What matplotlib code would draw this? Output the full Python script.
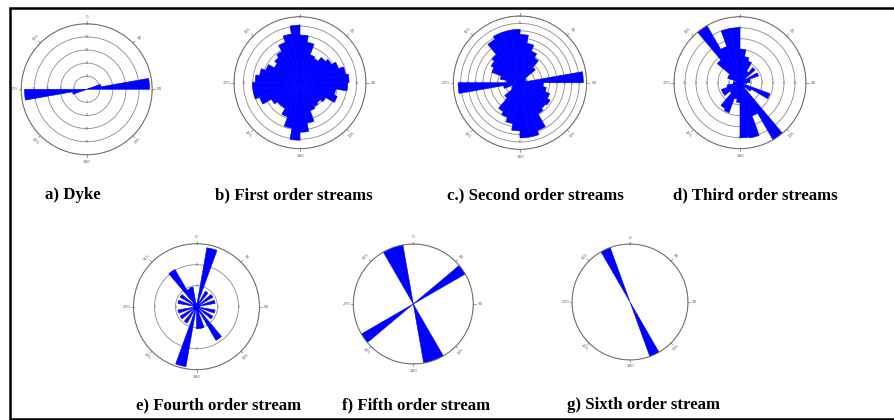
import numpy as np
import matplotlib
matplotlib.use("Agg")
import matplotlib.pyplot as plt
from matplotlib.patches import Rectangle

W, H = 894, 420

# 10 degree bins, start angle of each bin (azimuth, clockwise from north)
bins = np.arange(0, 360, 10)

# a) Dyke
dyke_angles = [70, 80, 250, 260]
dyke_counts = [4.4, 19.2, 4.4, 19.0]

# b) First order streams (36 bins)
first_counts = [10.1, 8.7, 6.3, 5.9, 7.0, 7.7, 8.7, 9.8, 10.4, 10.1, 7.7, 8.4,
                6.3, 5.6, 5.9, 6.3, 8.7, 10.5, 12.2, 9.8, 7.7, 6.3, 6.3, 7.0,
                9.1, 10.1, 10.1, 9.5, 8.7, 7.7, 6.3, 7.0, 7.7, 9.1, 10.5, 12.2]

# c) Second order streams (36 bins)
second_counts = [13.0, 10.8, 9.0, 7.7, 5.4, 1.8, 1.4, 1.8, 17.1, 6.3, 7.2, 8.5,
                 9.4, 9.0, 9.7, 13.7, 14.9, 14.9, 13.0, 11.2, 9.9, 9.0, 5.4, 2.7,
                 2.2, 4.5, 16.7, 3.6, 5.4, 8.1, 9.0, 9.9, 13.5, 14.4, 14.4, 14.4]

# d) Third order streams (36 bins)
third_counts = [6.1, 4.8, 4.2, 2.4, 3.6, 1.2, 3.6, 1.8, 1.8, 1.2, 0.6, 5.8,
                2.4, 1.2, 12.0, 6.4, 10.2, 10.0, 3.6, 3.0, 5.8, 5.4, 2.4, 3.6,
                3.6, 2.4, 1.2, 1.2, 0.6, 2.4, 2.4, 5.4, 12.2, 7.0, 10.0, 10.0]

# e) Fourth order stream (36 bins)
fourth_counts = [0.15, 2.85, 0.3, 0.85, 0.15, 0.9, 0.15, 0.9, 0.15, 0.15, 0.9, 0.15,
                 0.9, 0.15, 1.85, 0.3, 1.05, 1.05, 0.15, 2.9, 0.15, 0.9, 0.15, 0.9,
                 0.15, 0.9, 0.15, 0.15, 0.9, 0.15, 0.9, 0.15, 2.05, 0.9, 0.95, 0.15]

# f) Fifth order stream
fifth_angles = [50, 150, 160, 230, 330, 340]
fifth_counts = [1, 1, 1, 1, 1, 1]

# g) Sixth order stream
sixth_angles = [150, 330]
sixth_counts = [1, 1]

labels = ["a) Dyke", "b) First order streams", "c.) Second order streams",
          "d) Third order streams", "e) Fourth order stream",
          "f) Fifth order stream", "g) Sixth order stream"]

# panel layout in pixels: centre x, centre y, radius, ring max, ring step
panels = [
    (86.7, 89.3, 65.5, 20, 4),
    (300, 82.7, 66, 14, 2),
    (520, 82.7, 66.7, 18, 2),
    (740, 82.7, 66, 12, 2),
    (196.5, 306.7, 63, 3, 1),
    (413.3, 304, 60, 1, 1),
    (630, 302, 58, 1, 1),
]
label_pos = [(45, 195), (215, 195), (447, 195), (673, 195),
             (136, 405), (342, 405), (567, 405)]

data = [
    (dyke_angles, dyke_counts),
    (bins, first_counts),
    (bins, second_counts),
    (bins, third_counts),
    (bins, fourth_counts),
    (fifth_angles, fifth_counts),
    (sixth_angles, sixth_counts),
]

fig = plt.figure(figsize=(W / 100, H / 100), dpi=100)

for (cx, cy, R, rmax, step), (ang, cnt) in zip(panels, data):
    ax = fig.add_axes([(cx - R) / W, 1 - (cy + R) / H, 2 * R / W, 2 * R / H],
                      projection="polar")
    ax.set_theta_zero_location("N")
    ax.set_theta_direction(-1)
    ax.bar(np.radians(ang), cnt, width=np.radians(10), align="edge",
           color="#0000ff", edgecolor="#0000ff", lw=0.4, zorder=2)
    ax.set_ylim(0, rmax)
    rings = np.arange(step, rmax + 0.001, step)
    ax.set_yticks(rings)
    ax.set_yticklabels([])
    ax.set_xticks([])
    ax.set_axisbelow(True)
    ax.grid(axis="y", color="#8a8a8a", lw=0.6)
    ax.spines["polar"].set_color("#6a6a6a")
    ax.spines["polar"].set_linewidth(0.7)
    # small ring labels on the four main axes
    if rmax > 1:
        for d in [0, 90, 180, 270]:
            for r in rings[:-1]:
                ax.text(np.radians(d), r, str(int(r)), fontsize=2.5,
                        color="#777777", ha="center", va="center", zorder=1)
    # azimuth marks and labels
    for d in range(0, 360, 45):
        t = np.radians(d)
        ax.plot([t, t], [rmax, rmax * 1.04], color="#777777", lw=0.5,
                clip_on=False)
        rot = (90 - d) % 180 - 90 if d not in (90, 270) else 0
        ax.text(t, rmax * 1.11, str(d), fontsize=3, color="#666666",
                ha="center", va="center", rotation=rot, clip_on=False)

for txt, (x, y) in zip(labels, label_pos):
    fig.text(x / W, 1 - y / H, txt, fontsize=12.1, fontweight="bold",
             family="Liberation Serif", ha="left", va="center")

fig.patches.append(Rectangle((9.5 / W, 1.5 / H), (W - 9) / W, (H - 9.5) / H,
                             transform=fig.transFigure, fill=False,
                             edgecolor="black", lw=1.8))

fig.savefig("out.png", dpi=100)
